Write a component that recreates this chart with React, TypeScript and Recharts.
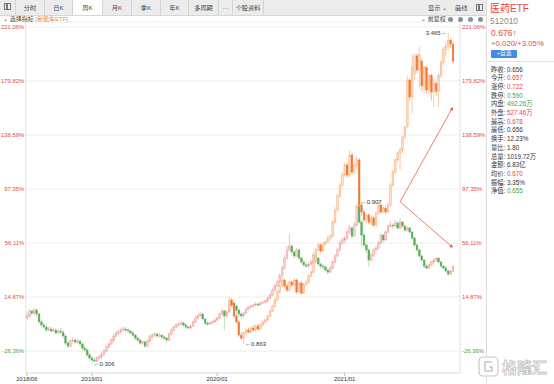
import React from "react";
import {
  ComposedChart,
  Bar,
  XAxis,
  YAxis,
  CartesianGrid,
  ReferenceLine,
  ReferenceDot,
} from "recharts";

// Weekly candles, % change vs. first week. [open, high, low, close]
const mainOHLC: number[][] = [
  [-1.0, 3.0, -3.0, 0.4], [0.4, 6.0, -1.0, 4.2], [4.2, 5.5, 0.5, 2.6], [2.6, 6.5, 1.0, 4.9],
  [4.9, 6.0, 0.0, 1.9], [1.9, 3.0, -5.5, -4.2], [-4.2, -2.5, -8.0, -6.5], [-6.5, -4.5, -9.5, -8.1],
  [-8.1, -6.0, -12.0, -10.3], [-10.3, -7.5, -11.5, -9.6], [-9.6, -8.0, -12.5, -11.1], [-11.1, -8.5, -12.0, -10.3],
  [-10.3, -9.0, -14.0, -12.6], [-12.6, -9.5, -13.5, -11.1], [-11.1, -9.0, -13.0, -11.9], [-11.9, -10.5, -16.5, -14.9],
  [-14.9, -13.5, -22.0, -20.3], [-20.3, -18.5, -24.5, -22.6], [-22.6, -17.0, -24.0, -18.8], [-18.8, -16.0, -20.5, -18.0],
  [-18.0, -16.5, -21.0, -19.5], [-19.5, -17.0, -21.0, -18.8], [-18.8, -17.5, -23.0, -21.0], [-21.0, -19.5, -26.0, -24.1],
  [-24.1, -22.0, -27.0, -25.6], [-25.6, -24.0, -31.0, -29.4], [-29.4, -27.5, -33.5, -31.7], [-31.7, -30.0, -36.3, -33.3],
  [-33.3, -31.5, -35.5, -34.0], [-34.0, -30.5, -35.0, -31.7], [-31.7, -29.5, -33.0, -31.0], [-31.0, -27.0, -32.0, -28.7],
  [-28.7, -25.0, -30.0, -26.4], [-26.4, -22.0, -27.5, -23.3], [-23.3, -19.5, -24.5, -21.0], [-21.0, -16.5, -22.0, -18.0],
  [-18.0, -13.0, -19.5, -14.9], [-14.9, -11.0, -16.0, -12.6], [-12.6, -10.0, -14.0, -11.9], [-11.9, -8.5, -13.0, -10.3],
  [-10.3, -7.5, -11.5, -9.6], [-9.6, -8.0, -12.0, -10.3], [-10.3, -9.0, -12.5, -11.1], [-11.1, -10.0, -14.0, -12.6],
  [-12.6, -11.0, -15.5, -14.2], [-14.2, -13.0, -18.0, -16.5], [-16.5, -15.0, -19.5, -18.0], [-18.0, -16.5, -22.0, -20.3],
  [-20.3, -18.0, -21.5, -19.5], [-19.5, -18.5, -24.0, -22.6], [-22.6, -17.5, -23.5, -18.8], [-18.8, -14.0, -20.0, -15.7],
  [-15.7, -13.0, -17.0, -14.2], [-14.2, -12.0, -15.5, -13.4], [-13.4, -12.5, -16.5, -14.9], [-14.9, -13.0, -16.0, -14.2],
  [-14.2, -13.5, -17.5, -15.7], [-15.7, -14.5, -18.0, -16.5], [-16.5, -15.5, -20.0, -18.0], [-18.0, -12.0, -19.0, -13.4],
  [-13.4, -9.0, -14.5, -10.3], [-10.3, -6.5, -11.5, -8.1], [-8.1, -5.0, -9.0, -6.5], [-6.5, -4.0, -7.5, -5.8],
  [-5.8, -3.5, -7.0, -5.0], [-5.0, -4.0, -8.0, -6.5], [-6.5, -5.5, -9.5, -8.1], [-8.1, -6.5, -10.0, -8.8],
  [-8.8, -6.0, -9.5, -7.3], [-7.3, -3.0, -8.0, -4.2], [-4.2, 0.5, -5.0, -1.2], [-1.2, 2.0, -2.5, 0.4],
  [0.4, 3.5, -0.5, 1.9], [1.9, 2.5, -3.0, -1.9], [-1.9, -1.0, -6.5, -5.0], [-5.0, -4.0, -7.0, -5.8],
  [-5.8, -3.5, -6.5, -5.0], [-5.0, -3.0, -6.0, -4.2], [-4.2, -1.5, -5.0, -2.7], [-2.7, 0.0, -3.5, -1.2],
  [-1.2, 3.0, -2.0, 1.9], [1.9, 6.0, 1.0, 4.2], [4.2, 5.5, -10.3, 0.4], [0.4, 5.0, -1.0, 3.4],
  [3.4, 10.5, 2.5, 8.8], [8.8, 12.5, 7.0, 10.3], [10.3, 11.5, 6.0, 8.0], [8.0, 9.0, 3.0, 4.9],
  [4.9, 6.0, 0.0, 1.9], [1.9, 3.0, -2.0, 0.4], [0.4, 3.5, -0.5, 2.6], [2.6, 6.5, 2.0, 5.7],
  [5.7, 8.0, 4.5, 7.2], [7.2, 9.0, 6.0, 8.0], [8.0, 10.0, 7.0, 8.8], [8.8, 11.0, 8.0, 9.5],
  [9.5, 10.5, 7.5, 8.8], [8.8, 11.5, 8.0, 10.3], [10.3, 12.0, 9.5, 11.0], [11.0, 13.0, 10.0, 11.8],
  [11.8, 15.5, 11.0, 14.1], [14.1, 18.0, 13.0, 16.4], [16.4, 22.0, 15.5, 20.2], [20.2, 25.0, 19.0, 23.3],
  [23.3, 28.0, 22.5, 26.3], [26.3, 33.0, 25.5, 30.9], [30.9, 39.0, 30.0, 37.0], [37.0, 47.0, 36.0, 44.6],
  [44.6, 54.0, 43.5, 50.8], [50.8, 63.0, 49.5, 53.8], [53.8, 55.0, 47.5, 49.2], [49.2, 50.5, 44.5, 46.2],
  [46.2, 52.5, 45.0, 50.8], [50.8, 52.0, 43.0, 44.6], [44.6, 46.0, 40.0, 41.6], [41.6, 43.0, 37.5, 39.3],
  [39.3, 41.0, 37.0, 38.5], [38.5, 41.5, 37.5, 40.1], [40.1, 43.0, 39.0, 41.6], [41.6, 49.0, 41.0, 46.9],
  [46.9, 48.0, 43.0, 44.6], [44.6, 45.5, 38.5, 40.1], [40.1, 41.0, 36.5, 38.5], [38.5, 40.0, 36.0, 37.8],
  [37.8, 39.0, 34.0, 35.5], [35.5, 37.0, 32.0, 33.9], [33.9, 38.5, 33.0, 37.0], [37.0, 43.0, 36.0, 41.6],
  [41.6, 47.5, 40.5, 46.2], [46.2, 52.5, 45.5, 50.8], [50.8, 58.0, 49.5, 56.1], [56.1, 60.0, 54.5, 58.4],
  [58.4, 61.5, 56.0, 59.9], [59.9, 66.5, 58.5, 64.5], [64.5, 70.0, 63.0, 67.6], [67.6, 69.0, 59.5, 61.4],
  [61.4, 72.0, 60.5, 69.8], [69.8, 86.0, 69.0, 84.3], [84.3, 87.4, 70.5, 72.1], [72.1, 74.0, 53.0, 62.2],
  [62.2, 64.0, 52.5, 54.6], [54.6, 56.0, 48.0, 50.8], [50.8, 52.0, 38.0, 43.1], [43.1, 48.5, 42.0, 46.9],
  [46.9, 52.0, 45.5, 50.8], [50.8, 53.5, 48.5, 52.3], [52.3, 57.5, 51.0, 56.1], [56.1, 63.5, 55.0, 62.2],
  [62.2, 63.0, 56.5, 58.4], [58.4, 66.0, 57.5, 64.5], [64.5, 70.5, 63.5, 69.1], [69.1, 72.5, 67.5, 69.8],
  [69.8, 71.0, 67.0, 69.1], [69.1, 73.5, 68.0, 71.4], [71.4, 72.5, 66.0, 67.6], [67.6, 74.5, 66.5, 72.1],
  [72.1, 73.0, 67.5, 69.1], [69.1, 70.0, 64.5, 66.0], [66.0, 69.0, 65.0, 67.6], [67.6, 68.5, 63.0, 64.5],
  [64.5, 65.5, 58.5, 59.9], [59.9, 61.0, 53.0, 54.6], [54.6, 56.0, 49.5, 50.8], [50.8, 52.0, 45.0, 46.2],
  [46.2, 47.5, 41.5, 43.1], [43.1, 44.0, 37.0, 38.5], [38.5, 40.5, 36.0, 37.0], [37.0, 40.5, 36.0, 39.3],
  [39.3, 42.5, 38.5, 41.6], [41.6, 44.5, 40.5, 43.1], [43.1, 45.5, 42.0, 44.6], [44.6, 45.0, 40.5, 41.6],
  [41.6, 42.5, 37.5, 38.5], [38.5, 39.5, 36.0, 37.0], [37.0, 38.5, 33.5, 34.7], [34.7, 36.0, 31.0, 32.4],
  [32.4, 35.5, 31.5, 34.3], [34.5, 38.8, 34.3, 38.4],
];

// 新能车ETF overlay, begins at week index OVERLAY_START
const OVERLAY_START = 84;
const overlayOHLC: number[][] = [
  [4.9, 14.9, 3.4, 12.6], [12.6, 14.0, 7.5, 8.8], [8.8, 10.0, -1.0, 0.4], [0.4, 2.0, -5.5, -4.2],
  [-4.2, -3.0, -15.5, -14.2], [-14.2, -12.0, -18.0, -16.5], [-16.5, -11.0, -21.0, -12.6], [-12.6, -9.0, -14.0, -10.3],
  [-10.3, -8.5, -13.0, -11.9], [-11.9, -7.5, -13.0, -8.8], [-8.8, -7.0, -11.5, -10.3], [-10.3, -6.0, -11.0, -7.3],
  [-7.3, -5.5, -10.5, -9.6], [-9.6, -5.0, -10.5, -6.5], [-6.5, -3.0, -7.5, -4.2], [-4.2, -1.5, -5.5, -2.7],
  [-2.7, 1.5, -3.5, 0.4], [0.4, 5.5, -0.5, 4.2], [4.2, 9.0, 3.0, 8.0], [8.0, 14.0, 7.0, 12.6],
  [12.6, 20.0, 11.5, 18.7], [18.7, 25.5, 17.5, 24.0], [24.0, 29.5, 22.5, 27.8], [27.8, 29.0, 21.5, 23.3],
  [23.3, 25.0, 18.5, 20.2], [20.2, 28.0, 19.0, 26.3], [26.3, 27.5, 22.5, 24.0], [24.0, 29.5, 23.0, 27.8],
  [27.8, 29.0, 17.0, 18.7], [18.7, 26.5, 17.5, 25.5], [25.5, 27.0, 16.5, 17.9], [17.9, 25.5, 17.0, 24.8],
  [24.8, 27.5, 23.5, 26.3], [26.3, 32.5, 25.0, 30.9], [30.9, 35.5, 30.0, 33.9], [33.9, 43.5, 33.0, 41.6],
  [41.6, 52.5, 40.5, 50.8], [50.8, 56.5, 49.5, 54.6], [54.6, 56.0, 48.0, 50.0], [50.0, 57.0, 49.0, 55.3],
  [55.3, 58.5, 54.0, 56.9], [56.9, 61.5, 56.0, 59.9], [59.9, 63.0, 58.0, 61.4], [61.4, 73.5, 60.5, 72.1],
  [72.1, 83.5, 71.0, 81.3], [81.3, 93.5, 80.0, 92.0], [92.0, 102.0, 90.5, 100.4], [100.4, 110.0, 99.0, 108.0],
  [108.0, 117.5, 106.5, 115.7], [115.7, 118.0, 106.0, 108.0], [108.0, 127.0, 106.5, 123.3], [123.3, 125.0, 108.5, 110.3],
  [110.3, 118.5, 108.5, 115.7], [115.7, 122.0, 113.0, 119.5], [119.5, 121.0, 83.5, 85.1], [85.1, 87.0, 77.0, 79.8],
  [79.8, 81.0, 72.0, 73.7], [73.7, 79.0, 70.0, 77.5], [77.5, 79.0, 70.5, 72.1], [72.1, 76.5, 69.0, 75.2],
  [75.2, 77.0, 68.0, 69.8], [69.8, 80.5, 68.5, 79.0], [79.0, 87.0, 77.5, 85.1], [85.1, 86.5, 78.0, 79.8],
  [79.8, 84.5, 78.5, 82.8], [82.8, 85.0, 78.0, 79.8], [79.8, 87.0, 78.5, 85.1], [85.1, 102.0, 84.0, 100.4],
  [100.4, 112.0, 99.0, 110.3], [110.3, 121.0, 109.0, 119.5], [119.5, 126.5, 118.0, 124.8], [124.8, 129.5, 112.0, 127.1],
  [127.1, 138.0, 125.0, 137.0], [137.0, 145.5, 135.5, 144.7], [145.0, 184.0, 143.5, 180.6], [180.6, 182.0, 165.0, 167.6],
  [167.6, 200.0, 155.4, 190.0], [185.0, 201.0, 180.5, 199.0], [199.0, 200.5, 186.0, 188.2], [188.2, 206.0, 174.0, 200.0],
  [195.0, 197.0, 172.0, 176.0], [176.0, 192.0, 170.0, 190.0], [190.0, 191.0, 170.5, 173.0], [173.0, 186.0, 168.0, 184.0],
  [184.0, 185.5, 165.0, 171.4], [171.4, 182.0, 160.0, 178.0], [178.0, 180.0, 168.5, 172.0], [172.0, 186.0, 160.0, 184.0],
  [184.0, 196.0, 182.0, 194.0], [194.0, 206.0, 192.0, 204.0], [204.0, 210.0, 199.0, 206.0], [206.0, 216.5, 203.0, 211.0],
  [211.0, 213.0, 205.0, 208.0], [208.0, 210.0, 193.0, 195.0],
];

const xTickIndex = [0, 27, 79, 132];
const xTickLabels = ["2018/06", "2019/01", "2020/01", "2021/01"];
const yTicks = [-26.36, 14.87, 56.11, 97.35, 138.59, 179.82, 221.06];

// price notes: [week index, value, text, side]
const priceNotes: [number, number, string, "left" | "right"][] = [
  [27, -36.3, "\u21900.306", "right"],
  [90, -21.0, "\u21900.863", "right"],
  [138, 87.4, "\u21900.907", "right"],
  [175, 216.5, "3.465\u2192", "left"],
];

const arrowFrom = { i: 155, v: 87.6 };
const arrowTo = [
  { i: 177, v: 160.0 },
  { i: 177, v: 52.5 },
];

const tabLabels = ["分时", "日K", "周K", "月K", "季K", "年K", "多周期", "···", "个股资料"];
const quoteLabels = ["昨收", "今开", "涨停", "跌停", "内盘", "外盘", "最高", "最低", "换手", "量比", "总量", "金额", "均价", "振幅", "净值"];
const quoteValues = ["0.656", "0.657", "0.722", "0.590", "492.26万", "527.46万", "0.678", "0.656", "12.23%", "1.80", "1019.72万", "6.83亿", "0.670", "3.35%", "0.655"];
const quoteTone = ["n", "r", "r", "g", "g", "r", "r", "n", "n", "n", "n", "n", "r", "n", "g"];

const RED = "#e8473f";
const GREEN = "#3aa846";
const TEXT = "#333";
const ARROW = "#ee5a47";

const PAL = {
  mUp: { fill: "#f9d6d3", stroke: "#ef928c", wick: "#f1a29d" },
  mDown: { fill: "#58ae58", stroke: "#58ae58", wick: "#9fd49f" },
  oUp: { fill: "#fcdcc6", stroke: "#f6a874", wick: "#f7b68a" },
  oDown: { fill: "#f07a34", stroke: "#f07a34", wick: "#f39a62" },
};

const rows = mainOHLC.map((m, i) => {
  const o = overlayOHLC[i - OVERLAY_START];
  return {
    i,
    mainRange: [m[2], m[1]],
    mo: m[0],
    mc: m[3],
    ovRange: o ? [o[2], o[1]] : null,
    oo: o ? o[0] : null,
    oc: o ? o[3] : null,
  };
});

function candleShape(series: "m" | "o") {
  return (props: any) => {
    const { x, y, width, height, payload } = props;
    const r = series === "m" ? payload.mainRange : payload.ovRange;
    if (!r || !Number.isFinite(y) || !Number.isFinite(height)) return <g />;
    const o = series === "m" ? payload.mo : payload.oo;
    const c = series === "m" ? payload.mc : payload.oc;
    const [lo, hi] = r;
    const top = Math.min(y, y + height);
    const h = Math.abs(height);
    const py = (v: number) => (hi === lo ? top : top + ((hi - v) / (hi - lo)) * h);
    const cx = x + width / 2;
    const up = c >= o;
    const pal = series === "m" ? (up ? PAL.mUp : PAL.mDown) : up ? PAL.oUp : PAL.oDown;
    const bTop = py(Math.max(o, c));
    const bH = Math.max(0.6, py(Math.min(o, c)) - bTop);
    return (
      <g>
        <line x1={cx} x2={cx} y1={top} y2={top + h} stroke={pal.wick} strokeWidth={0.7} />
        <rect x={cx - 0.85} y={bTop} width={1.7} height={bH} fill={pal.fill} stroke={pal.stroke} strokeWidth={0.45} />
      </g>
    );
  };
}

function arrowShape(props: any) {
  const { x1, y1, x2, y2 } = props;
  const a = Math.atan2(y2 - y1, x2 - x1);
  const L = 3.6;
  const W = 1.7;
  const bx = x2 - L * Math.cos(a);
  const by = y2 - L * Math.sin(a);
  const pts = `${x2},${y2} ${bx - W * Math.sin(a)},${by + W * Math.cos(a)} ${bx + W * Math.sin(a)},${by - W * Math.cos(a)}`;
  return (
    <g>
      <line x1={x1} y1={y1} x2={bx} y2={by} stroke={ARROW} strokeWidth={0.8} />
      <polygon points={pts} fill={ARROW} />
    </g>
  );
}

function YTick(props: any) {
  const { x, y, payload, textAnchor } = props;
  const v = payload.value as number;
  return (
    <text x={x} y={y} dy="0.35em" textAnchor={textAnchor} fontSize={5.9} fill={v < 0 ? GREEN : RED}>
      {v.toFixed(2)}%
    </text>
  );
}

function XTick(props: any) {
  const { x, y, payload } = props;
  const k = xTickIndex.indexOf(payload.value);
  return (
    <text x={x} y={y} dy="0.8em" textAnchor="middle" fontSize={5.9} fill={TEXT}>
      {k >= 0 ? xTickLabels[k] : ""}
    </text>
  );
}

const tabEdges = [15, 44, 72, 102, 131, 160, 188, 218, 232, 263];

function TopBar() {
  return (
    <>
      <div style={{ position: "absolute", left: 0, top: 0, width: 486, height: 15, background: "#ececec", borderBottom: "1px solid #d7d7d7" }} />
      <div style={{ position: "absolute", left: 4, top: 3, width: 7, height: 7, border: "1px solid #777", boxSizing: "border-box" }}>
        <div style={{ position: "absolute", left: 1, top: 0, width: 1.5, height: 5, background: "#777" }} />
      </div>
      {tabLabels.map((t, k) => (
        <div
          key={t}
          style={{
            position: "absolute",
            left: tabEdges[k],
            top: 0,
            width: tabEdges[k + 1] - tabEdges[k],
            height: 15,
            lineHeight: "15px",
            textAlign: "center",
            fontSize: 6.2,
            color: "#444",
            background: k === 2 ? "#fff" : "transparent",
            borderLeft: "1px solid #d3d3d3",
            boxSizing: "border-box",
          }}
        >
          {t}
        </div>
      ))}
      <div style={{ position: "absolute", left: tabEdges[tabEdges.length - 1], top: 0, width: 1, height: 15, background: "#d3d3d3" }} />
      <div style={{ position: "absolute", left: 428, top: 0, lineHeight: "15px", fontSize: 6.2, color: "#444" }}>显示 ⌄</div>
      <div style={{ position: "absolute", left: 455, top: 0, lineHeight: "15px", fontSize: 6.2, color: "#444" }}>画线</div>
      <div style={{ position: "absolute", left: 476, top: 4, width: 7, height: 7, border: "1px solid #777", boxSizing: "border-box" }}>
        <div style={{ position: "absolute", left: 1, top: 0, width: 1.5, height: 5, background: "#777" }} />
      </div>
      <div style={{ position: "absolute", left: 3, top: 15, lineHeight: "8px", fontSize: 6, color: "#444" }}>
        ⌄ 选择指标 <span style={{ color: "#ef8a3a" }}>[新能车ETF]</span>
      </div>
      <div style={{ position: "absolute", left: 421, top: 15, lineHeight: "8px", fontSize: 6, color: "#444" }}>⌄ 前复权</div>
      {[450, 460, 470, 480].map((cx) => (
        <div key={cx} style={{ position: "absolute", left: cx - 2.5, top: 16.5, width: 5, height: 5, borderRadius: 3, background: "#8a8f98" }} />
      ))}
    </>
  );
}

function SidePanel() {
  const tone = (t: string) => (t === "r" ? RED : t === "g" ? GREEN : TEXT);
  return (
    <>
      <div style={{ position: "absolute", left: 486, top: 0, width: 1, height: 384, background: "#dcdcdc" }} />
      <div style={{ position: "absolute", left: 490, top: 2, fontSize: 10, color: RED, lineHeight: "13px" }}>医药ETF</div>
      <div style={{ position: "absolute", left: 490, top: 16, fontSize: 8.4, color: "#8a8a8a", lineHeight: "10px" }}>512010</div>
      <div style={{ position: "absolute", left: 491, top: 27.5, fontSize: 8.6, color: RED, lineHeight: "10px" }}>0.676↑</div>
      <div style={{ position: "absolute", left: 491, top: 38.5, fontSize: 7.8, color: RED, lineHeight: "10px" }}>+0.020/+3.05%</div>
      <div style={{ position: "absolute", left: 491, top: 50, width: 26, height: 7.5, background: "#3f8de2", borderRadius: 1, color: "#fff", fontSize: 5.6, lineHeight: "7.5px", textAlign: "center" }}>
        +自选
      </div>
      <div style={{ position: "absolute", left: 487, top: 61, width: 67, height: 1, background: "#e3e3e3" }} />
      {quoteLabels.map((l, k) => (
        <div key={l} style={{ position: "absolute", left: 491, top: 65.5 + k * 8.7, fontSize: 6.3, lineHeight: "8px", color: TEXT, whiteSpace: "nowrap" }}>
          {l}:<span style={{ position: "absolute", left: 16, color: tone(quoteTone[k]) }}>{quoteValues[k]}</span>
        </div>
      ))}
      <svg style={{ position: "absolute", left: 476, top: 354 }} width={76} height={26}>
        <rect x={3} y={3} width={19} height={19} rx={4} fill="#fff" stroke="#c8c8c8" strokeWidth={1.2} />
        <path d="M16 8 H9 V17 H16 V13 H13" fill="none" stroke="#c8c8c8" strokeWidth={1.6} />
        <text x={26} y={19} fontSize={15} fill="#fff" stroke="#c4c4c4" strokeWidth={0.8} fontWeight={700}>
          格隆汇
        </text>
      </svg>
    </>
  );
}

export default function App() {
  return (
    <div
      style={{
        position: "absolute",
        left: 0,
        top: 0,
        width: 554,
        height: 384,
        background: "#fff",
        overflow: "hidden",
        fontFamily: "'Liberation Sans', 'Noto Sans CJK SC', sans-serif",
      }}
    >
      <div style={{ position: "absolute", left: 0, top: 0 }}>
        <ComposedChart width={486} height={384} data={rows} margin={{ top: 22, right: 0, bottom: 0, left: 0 }}>
          <CartesianGrid xAxisId="m" yAxisId="l" vertical={false} stroke="#eeeeee" />
          <XAxis
            xAxisId="m"
            dataKey="i"
            type="category"
            ticks={xTickIndex}
            interval={0}
            height={11}
            padding={{ left: 0, right: 5.8 }}
            tick={<XTick />}
            tickSize={3}
            tickMargin={0}
            tickLine={{ stroke: "#bbb" }}
            axisLine={{ stroke: "#e2e2e2" }}
          />
          <XAxis xAxisId="o" dataKey="i" type="category" hide padding={{ left: 0, right: 5.8 }} />
          <YAxis
            yAxisId="l"
            orientation="left"
            width={25.8}
            domain={[-43.16, 224.88]}
            ticks={yTicks}
            interval={0}
            tick={<YTick />}
            tickSize={0}
            tickMargin={1.5}
            axisLine={{ stroke: "#e2e2e2" }}
            allowDataOverflow
          />
          <YAxis
            yAxisId="r"
            orientation="right"
            width={26}
            domain={[-43.16, 224.88]}
            ticks={yTicks}
            interval={0}
            tick={<YTick />}
            tickSize={0}
            tickMargin={2}
            axisLine={{ stroke: "#e2e2e2" }}
            allowDataOverflow
          />
          <Bar xAxisId="m" yAxisId="l" dataKey="mainRange" shape={candleShape("m")} isAnimationActive={false} />
          <Bar xAxisId="o" yAxisId="l" dataKey="ovRange" shape={candleShape("o")} isAnimationActive={false} />
          {arrowTo.map((t, k) => (
            <ReferenceLine
              key={k}
              xAxisId="m"
              yAxisId="l"
              segment={[
                { x: arrowFrom.i, y: arrowFrom.v },
                { x: t.i, y: t.v },
              ]}
              shape={arrowShape}
              ifOverflow="visible"
            />
          ))}
          {priceNotes.map(([i, v, text, side]) => (
            <ReferenceDot
              key={text}
              xAxisId={side === "left" ? "o" : "m"}
              yAxisId="l"
              x={i}
              y={v}
              r={0}
              fill="none"
              stroke="none"
              ifOverflow="visible"
              label={{ value: text, position: side, offset: 1.5, fontSize: 6, fill: TEXT }}
            />
          ))}
        </ComposedChart>
      </div>
      <TopBar />
      <SidePanel />
    </div>
  );
}
